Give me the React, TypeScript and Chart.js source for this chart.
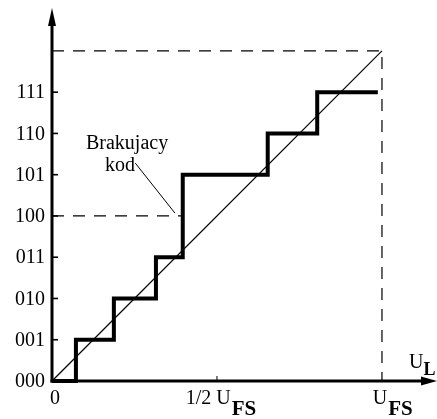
import React, { useEffect, useRef } from 'react';
import { Chart, registerables } from 'chart.js';

Chart.register(...registerables);

// ---- data ----
const codeLabels = ['000', '001', '010', '011', '100', '101', '110', '111'];
const codeValues = [0, 1, 2, 3, 4, 5, 6, 7];
const stepEdges = [0, 0.58, 1.5, 2.52, 3.17, 5.23, 6.43, 7.9];
const stepCodes = [0, 1, 2, 3, 5, 6, 7, 7];
const fullScale = 8;
const missingCode = 4;
const missingEdge = 3.17;
const xTickValues = [0, 4, 8];
const xTickMain = ['0', '1/2 U', 'U'];
const xTickSub = ['', 'FS', 'FS'];
const annotationLines = ['Brakujacy', 'kod'];
const xAxisName = 'U';
const xAxisSub = 'L';

const SERIF = '"Liberation Serif", "DejaVu Serif", serif';

const overlayPlugin = {
  id: 'overlay',
  afterDatasetsDraw(chart: any) {
    const ctx = chart.ctx as CanvasRenderingContext2D;
    const xs = chart.scales.x;
    const ys = chart.scales.y;
    const X = (v: number) => xs.getPixelForValue(v);
    const Y = (v: number) => ys.getPixelForValue(v);
    const x0 = X(0);
    const y0 = Y(0);
    ctx.save();
    ctx.strokeStyle = '#000';
    ctx.fillStyle = '#000';

    // axes
    ctx.lineWidth = 3;
    ctx.beginPath();
    ctx.moveTo(x0, y0 + 1.5);
    ctx.lineTo(x0, ys.top + 14);
    ctx.stroke();
    ctx.beginPath();
    ctx.moveTo(x0, ys.top);
    ctx.lineTo(x0 - 4, ys.top + 18);
    ctx.lineTo(x0 + 4, ys.top + 18);
    ctx.closePath();
    ctx.fill();

    ctx.beginPath();
    ctx.moveTo(x0 - 1.5, y0);
    ctx.lineTo(xs.right - 12, y0);
    ctx.stroke();
    ctx.beginPath();
    ctx.moveTo(xs.right + 1, y0);
    ctx.lineTo(xs.right - 15, y0 - 4.5);
    ctx.lineTo(xs.right - 15, y0 + 4.5);
    ctx.closePath();
    ctx.fill();

    // y ticks
    ctx.lineWidth = 1.6;
    codeValues.forEach((v) => {
      if (v === 0) return;
      ctx.beginPath();
      ctx.moveTo(x0, Y(v));
      ctx.lineTo(x0 + 6, Y(v));
      ctx.stroke();
    });
    // half-scale tick
    ctx.lineWidth = 1;
    ctx.beginPath();
    ctx.moveTo(X(fullScale / 2), y0);
    ctx.lineTo(X(fullScale / 2), y0 - 5);
    ctx.stroke();

    // y labels
    ctx.font = `20px ${SERIF}`;
    ctx.textAlign = 'right';
    ctx.textBaseline = 'middle';
    codeValues.forEach((v, i) => {
      ctx.fillText(codeLabels[i], x0 - 7, Y(v) + 1);
    });

    // x labels
    ctx.textBaseline = 'alphabetic';
    xTickValues.forEach((v, i) => {
      const main = xTickMain[i];
      const sub = xTickSub[i];
      ctx.font = `20px ${SERIF}`;
      const mw = ctx.measureText(main).width;
      ctx.font = `bold 21px ${SERIF}`;
      const sw = sub ? ctx.measureText(sub).width + 1 : 0;
      let start: number;
      if (i === 0) start = X(v) - mw / 2 + 3;
      else if (i === 1) start = X(v) - (mw + sw) / 2 + 4;
      else start = X(v) - mw / 2 - 2;
      ctx.textAlign = 'left';
      ctx.font = `20px ${SERIF}`;
      ctx.fillText(main, start, y0 + 23);
      if (sub) {
        ctx.font = `bold 21px ${SERIF}`;
        ctx.fillText(sub, start + mw + 1, y0 + 34);
      }
    });

    // axis name
    ctx.font = `20px ${SERIF}`;
    ctx.textAlign = 'left';
    ctx.fillText(xAxisName, xs.right - 27, y0 - 13);
    const uw = ctx.measureText(xAxisName).width;
    ctx.font = `bold 18px ${SERIF}`;
    ctx.fillText(xAxisSub, xs.right - 27 + uw, y0 - 6);

    // annotation
    ctx.font = `20px ${SERIF}`;
    ctx.textAlign = 'center';
    ctx.fillText(annotationLines[0], X(1.82), Y(5.62));
    ctx.fillText(annotationLines[1], X(1.65), Y(5.1));
    ctx.lineWidth = 1;
    ctx.beginPath();
    ctx.moveTo(X(2.02), Y(5.28));
    ctx.lineTo(X(2.98), Y(4.07));
    ctx.stroke();

    ctx.restore();
  },
};

export default function App() {
  const ref = useRef<HTMLCanvasElement | null>(null);

  useEffect(() => {
    if (!ref.current) return;
    // staircase: horizontal at the current code, then vertical at the next edge
    const stepData: { x: number; y: number }[] = [];
    stepEdges.forEach((x, i) => {
      if (i > 0) stepData.push({ x, y: stepCodes[i - 1] });
      stepData.push({ x, y: stepCodes[i] });
    });
    const dash = [12, 9];
    const chart = new Chart(ref.current, {
      type: 'line',
      data: {
        datasets: [
          {
            label: 'ideal',
            data: [
              { x: 0, y: 0 },
              { x: fullScale, y: fullScale },
            ],
            borderColor: '#000',
            borderWidth: 1.2,
            pointRadius: 0,
            clip: false as any,
          },
          {
            label: 'top',
            data: [
              { x: 0, y: fullScale },
              { x: fullScale, y: fullScale },
              { x: fullScale, y: 0 },
            ],
            borderColor: '#000',
            borderWidth: 1.2,
            borderDash: dash,
            pointRadius: 0,
            clip: false as any,
          },
          {
            label: 'missing',
            data: [
              { x: 0, y: missingCode },
              { x: missingEdge, y: missingCode },
            ],
            borderColor: '#000',
            borderWidth: 1.2,
            borderDash: dash,
            pointRadius: 0,
            clip: false as any,
          },
          {
            label: 'adc',
            data: stepData,
            borderColor: '#000',
            borderWidth: 4,
            pointRadius: 0,
            tension: 0,
            borderJoinStyle: 'miter',
            borderCapStyle: 'butt',
            clip: false as any,
          },
        ],
      },
      options: {
        responsive: false,
        animation: false,
        layout: { padding: { left: 52, right: 1, top: 8, bottom: 38 } },
        plugins: { legend: { display: false }, tooltip: { enabled: false } },
        scales: {
          x: { type: 'linear', min: 0, max: 9.31, display: false },
          y: { type: 'linear', min: 0, max: 9.04, display: false },
        },
      },
      plugins: [overlayPlugin],
    });
    return () => chart.destroy();
  }, []);

  return (
    <div style={{ position: 'fixed', left: 0, top: 0, width: 437, height: 419, background: '#fff' }}>
      <canvas ref={ref} width={437} height={419} />
    </div>
  );
}
